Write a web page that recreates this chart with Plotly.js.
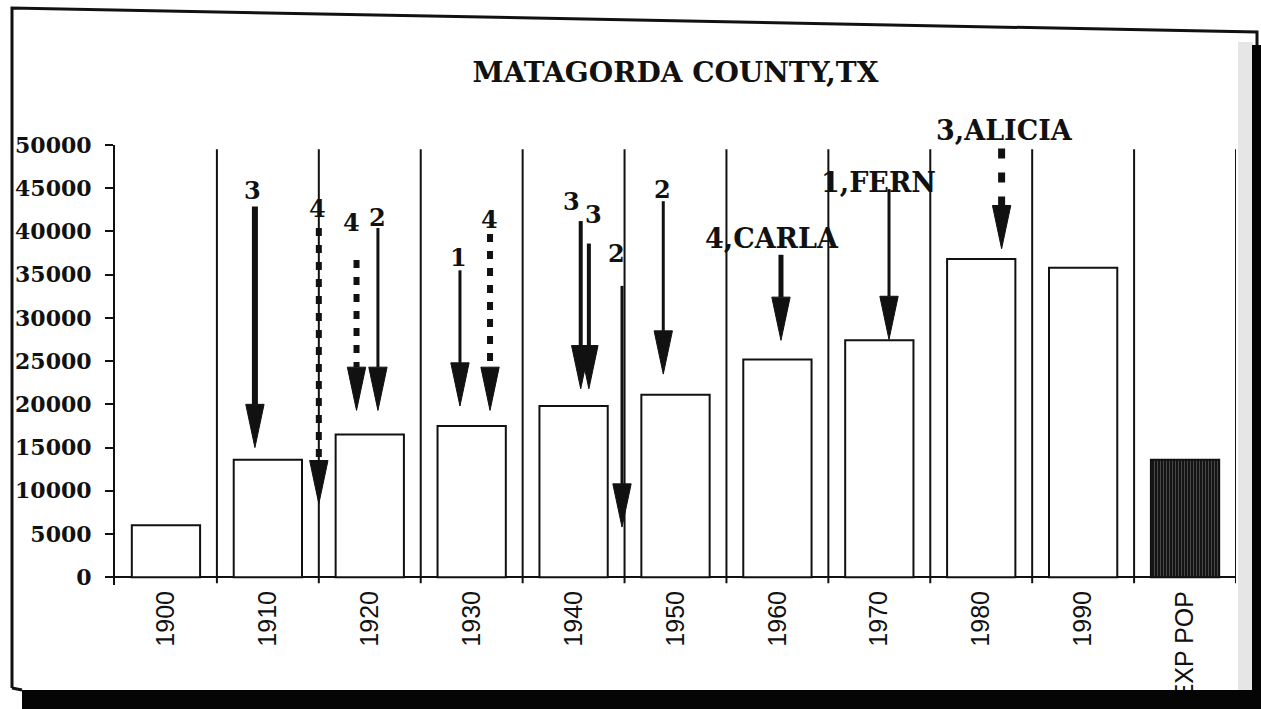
<!DOCTYPE html>
<html>
<head>
<meta charset="utf-8">
<script src="https://cdn.plot.ly/plotly-3.0.1.min.js"></script>
<style>
  html, body { margin: 0; padding: 0; background: #ffffff; }
  #chart { width: 1261px; height: 709px; }
</style>
</head>
<body>
<div id="chart"></div>
<script>
// ---------- DATA ----------
const categories = ['1900', '1910', '1920', '1930', '1940', '1950', '1960', '1970', '1980', '1990', 'EXP POP'];
const population = [6000, 13600, 16500, 17500, 19800, 21100, 25200, 27400, 36800, 35800, 13600];
const yTickValues = [0, 5000, 10000, 15000, 20000, 25000, 30000, 35000, 40000, 45000, 50000];
const yTickLabels = ['0', '5000', '10000', '15000', '20000', '25000', '30000', '35000', '40000', '45000', '50000'];
const hurricaneLabels = ['3', '4', '4', '2', '1', '4', '3', '3', '2', '2', '4,CARLA', '1,FERN', '3,ALICIA'];

// ---------- ANNOTATION GEOMETRY (arrow placement, in axis units) ----------
const arrowX     = [0.873, 1.50, 1.87, 2.08, 2.885, 3.18, 4.07, 4.15, 4.475, 4.88, 6.035, 7.095, 8.20];
const arrowStart = [42900, 40400, 36700, 40400, 35500, 39700, 41200, 38600, 33700, 43500, 37300, 44900, 49600];
const arrowTip   = [15000, 8500, 19300, 19300, 19800, 19300, 21800, 21800, 5800, 23500, 27400, 27500, 38000];
const labelX     = [0.854, 1.49, 1.825, 2.08, 2.875, 3.17, 3.975, 4.20, 4.425, 4.87, 5.95, 6.99, 8.23];
const labelY     = [44700, 42700, 41000, 41600, 37000, 41400, 43500, 42000, 37400, 44900, 39200, 45700, 51700];
const arrowDash  = ['solid', 'dash', 'dash', 'solid', 'solid', 'dash', 'solid', 'solid', 'solid', 'solid', 'solid', 'solid', 'dash'];
const arrowWidth = [6, 6, 6, 3, 3, 6, 4, 4, 3, 3, 5, 3, 7];
const HEAD_LEN = 5000;   // arrow head length in y units
const HEAD_W = 0.18;     // arrow head width in category units
const Y_RANGE = [-900, 50000];

// ---------- TRACES ----------
const idx = categories.map((_, i) => i);
const last = categories.length - 1;
const traces = [];

traces.push({
  type: 'bar',
  x: idx,
  y: population,
  width: 0.67,
  marker: {
    color: categories.map((c, i) => i === last ? '#141414' : '#ffffff'),
    line: { color: '#111111', width: 2 },
    pattern: {
      shape: categories.map((c, i) => i === last ? '|' : ''),
      fillmode: 'overlay',
      fgcolor: '#5a5a5a',
      size: 3,
      solidity: 0.15
    }
  },
  hoverinfo: 'skip',
  showlegend: false
});

for (let k = 0; k < arrowX.length; k++) {
  const x = arrowX[k];
  const headTop = arrowTip[k] + HEAD_LEN;
  const dashed = arrowDash[k] === 'dash';
  traces.push({
    type: 'scatter',
    mode: 'lines',
    x: [x, x],
    y: [arrowStart[k], headTop],
    line: { color: '#111111', width: arrowWidth[k], dash: dashed ? (k === arrowX.length - 1 ? '10px,14px' : '8px,9px') : 'solid' },
    hoverinfo: 'skip',
    showlegend: false,
    cliponaxis: false
  });
  traces.push({
    type: 'scatter',
    mode: 'lines',
    x: [x - HEAD_W / 2, x + HEAD_W / 2, x, x - HEAD_W / 2],
    y: [headTop, headTop, arrowTip[k], headTop],
    fill: 'toself',
    fillcolor: '#111111',
    line: { color: '#111111', width: 1 },
    hoverinfo: 'skip',
    showlegend: false
  });
}

// ---------- LAYOUT ----------
const L = 115, R = 25, T = 145, B = 124, W = 1261, H = 709;
const PW = W - L - R, PH = H - T - B;
const px = v => (v - L) / PW;
const py = v => (H - B - v) / PH;
const yToPaper = v => (v - Y_RANGE[0]) / (Y_RANGE[1] - Y_RANGE[0]);

const shapes = [];
// category separators
for (let i = 0; i < categories.length; i++) {
  shapes.push({
    type: 'line', xref: 'x', yref: 'y',
    x0: i + 0.5, x1: i + 0.5, y0: -700, y1: 49500,
    line: { color: '#111111', width: 2 }, layer: 'above'
  });
}
// scanned page frame
shapes.push({
  type: 'rect', xref: 'paper', yref: 'paper',
  x0: px(1238), x1: px(1253), y0: py(690), y1: py(42),
  fillcolor: '#e6e6e6', line: { width: 0 }, layer: 'below'
});
shapes.push({
  type: 'path', xref: 'paper', yref: 'paper',
  path: `M ${px(12)} ${py(688)} L ${px(12)} ${py(8)} L ${px(1257)} ${py(32)} L ${px(1257)} ${py(50)}`,
  line: { color: '#111111', width: 3 }
});
shapes.push({
  type: 'rect', xref: 'paper', yref: 'paper',
  x0: px(1252), x1: px(1265), y0: py(712), y1: py(45),
  fillcolor: '#050505', line: { width: 0 }
});
shapes.push({
  type: 'rect', xref: 'paper', yref: 'paper',
  x0: px(22), x1: px(1265), y0: py(712), y1: py(690),
  fillcolor: '#050505', line: { width: 0 }
});
shapes.push({
  type: 'path', xref: 'paper', yref: 'paper',
  path: `M ${px(12)} ${py(688)} L ${px(22)} ${py(690)}`,
  line: { color: '#111111', width: 3 }
});

const annotations = hurricaneLabels.map((t, k) => ({
  x: labelX[k], y: yToPaper(labelY[k]), xref: 'x', yref: 'paper',
  text: t, showarrow: false, xanchor: 'center', yanchor: 'middle',
  font: { family: 'DejaVu Serif', size: t.length > 1 ? 27 : 24, weight: 700, color: '#111111' }
}));

const layout = {
  width: W, height: H,
  margin: { l: L, r: R, t: T, b: B, pad: 0 },
  paper_bgcolor: '#ffffff',
  plot_bgcolor: 'rgba(0,0,0,0)',
  title: {
    text: 'MATAGORDA COUNTY,TX',
    x: 0.5, xref: 'paper', xanchor: 'center',
    y: 1 - 72 / H, yref: 'container', yanchor: 'middle',
    font: { family: 'DejaVu Serif', size: 28, weight: 700, color: '#111111' }
  },
  xaxis: {
    range: [-0.5, 10.5],
    tickmode: 'array',
    tickvals: idx,
    ticktext: categories,
    tickangle: -90,
    ticks: '',
    showgrid: false,
    zeroline: false,
    showline: false,
    tickfont: { family: 'Liberation Sans Narrow, Liberation Sans, Arial', size: 25, color: '#111111' },
    fixedrange: true
  },
  yaxis: {
    range: Y_RANGE,
    tickmode: 'array',
    tickvals: yTickValues,
    ticktext: yTickLabels,
    ticks: 'outside',
    ticklen: 8,
    tickwidth: 2,
    tickcolor: '#111111',
    ticklabelstandoff: 9,
    showline: true,
    linecolor: '#111111',
    linewidth: 2,
    showgrid: false,
    zeroline: true,
    zerolinecolor: '#111111',
    zerolinewidth: 2,
    tickfont: { family: 'DejaVu Serif', size: 22, weight: 700, color: '#111111' },
    fixedrange: true
  },
  bargap: 0.33,
  shapes: shapes,
  annotations: annotations,
  showlegend: false
};

Plotly.newPlot('chart', traces, layout, { displayModeBar: false, staticPlot: true });
</script>
</body>
</html>
